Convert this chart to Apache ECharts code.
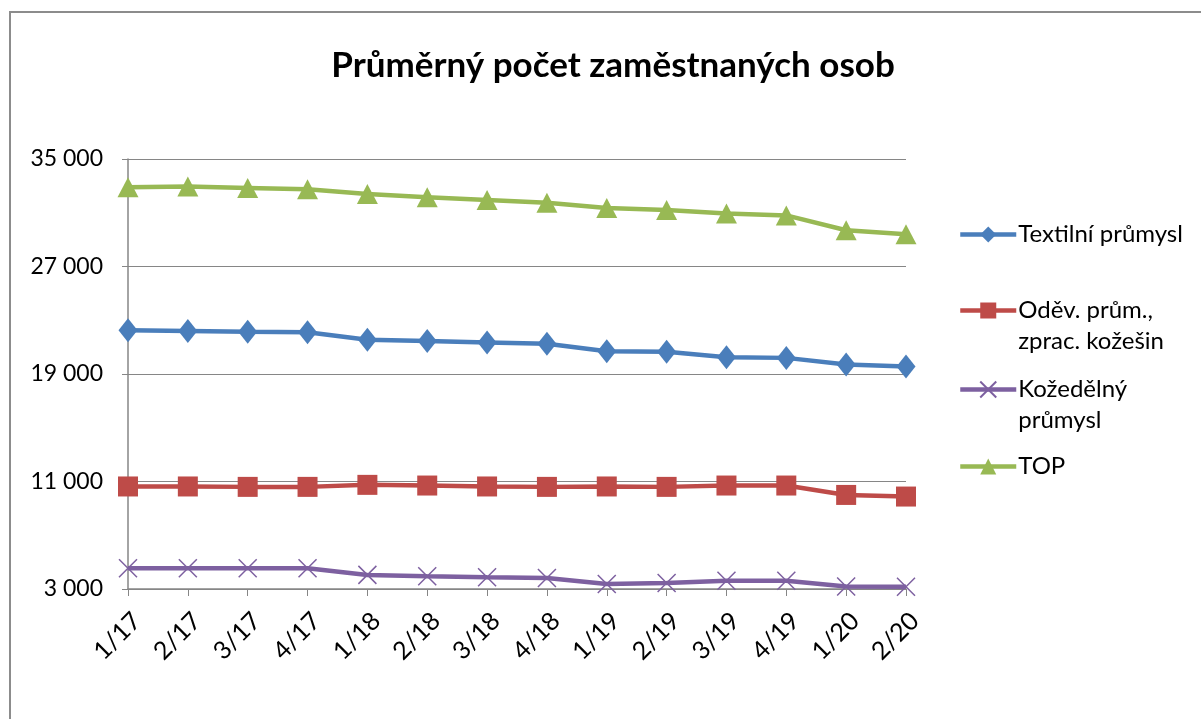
<!DOCTYPE html>
<html>
<head>
<meta charset="utf-8">
<script src="https://cdn.jsdelivr.net/npm/echarts@6/dist/echarts.min.js"></script>
<style>html,body{margin:0;padding:0;background:#fff;}#c{width:1201px;height:719px;}</style>
</head>
<body>
<div id="c"></div>
<script>
const categories = ['1/17','2/17','3/17','4/17','1/18','2/18','3/18','4/18','1/19','2/19','3/19','4/19','1/20','2/20'];
const textil = [22250,22200,22140,22100,21550,21450,21350,21250,20700,20650,20250,20200,19700,19550];
const odev = [10630,10630,10600,10600,10750,10700,10630,10600,10630,10600,10700,10700,10000,9880];
const kozed = [4540,4540,4540,4540,4050,3950,3870,3820,3370,3450,3620,3620,3190,3170];
const topTotal = [32900,32950,32850,32750,32400,32150,31950,31750,31350,31200,30950,30800,29700,29400];
const yTicks = [3000, 11000, 19000, 27000, 35000];

const FONT = 'Lato';
const chart = echarts.init(document.getElementById('c'));
const xPath = 'path://M0,0L10,10M10,0L0,10';
function fmt(v){ return String(v).replace(/\B(?=(\d{3})+(?!\d))/g, ' '); }
function legendAt(name, topPx, lines){
  return {
    show: true, orient: 'vertical', left: 958, top: topPx, padding: 0,
    itemWidth: 56, itemHeight: 20, itemGap: 0,
    data: [name],
    formatter: function(n){ return lines; },
    lineStyle: { width: 4.5 },
    textStyle: { fontFamily: FONT, fontSize: 24, color: '#000', lineHeight: 31, padding: [0, 0, 0, -3] }
  };
}
const names = ['Textilní průmysl', 'Oděv. prům., zprac. kožešin', 'Kožedělný průmysl', 'TOP'];
chart.setOption({
  animation: false,
  backgroundColor: '#fff',
  title: {
    text: 'Průměrný počet zaměstnaných osob', left: 608, top: 43, textAlign: 'center',
    textStyle: { fontFamily: FONT, fontWeight: 'bold', fontSize: 35, color: '#000' }
  },
  graphic: [{ type: 'rect', shape: { x: 10, y: 12, width: 1300, height: 800 }, style: { fill: 'none', stroke: '#8c8c8c', lineWidth: 2 }, silent: true }],
  legend: [
    legendAt(names[0], 219, 'Textilní průmysl'),
    legendAt(names[1], 264, '\u00a0\nOděv. prům.,\nzprac. kožešin'),
    legendAt(names[2], 343, '\u00a0\nKožedělný\nprůmysl'),
    legendAt(names[3], 451, 'TOP')
  ],
  grid: { left: 128, right: 295, top: 159, bottom: 130, containLabel: false },
  xAxis: {
    type: 'category', data: categories, boundaryGap: false,
    axisLine: { lineStyle: { color: '#868686', width: 1.5 } },
    axisTick: { show: true, alignWithLabel: true, length: 7, lineStyle: { color: '#868686' } },
    axisLabel: { rotate: 45, fontFamily: FONT, fontSize: 25, color: '#000', margin: 19, interval: 0, verticalAlign: 'top' }
  },
  yAxis: {
    type: 'value', min: yTicks[0], max: yTicks[yTicks.length - 1], interval: yTicks[1] - yTicks[0],
    axisLine: { show: true, lineStyle: { color: '#868686', width: 1.5 } },
    axisTick: { show: true, length: 6, lineStyle: { color: '#868686' } },
    splitLine: { lineStyle: { color: '#868686', width: 1.2 } },
    axisLabel: { fontFamily: FONT, fontSize: 23, color: '#000', margin: 25, formatter: fmt }
  },
  series: [
    { name: names[0], type: 'line', data: textil, symbol: 'diamond', symbolSize: [19, 24],
      lineStyle: { color: '#4a7ebb', width: 4.5 }, itemStyle: { color: '#4a7ebb' } },
    { name: names[1], type: 'line', data: odev, symbol: 'rect', symbolSize: 20,
      lineStyle: { color: '#be4b48', width: 4.5 }, itemStyle: { color: '#be4b48' } },
    { name: names[2], type: 'line', data: kozed, symbol: xPath, symbolSize: 18,
      lineStyle: { color: '#7d60a0', width: 4.5 }, itemStyle: { color: '#7d60a0', borderColor: '#7d60a0', borderWidth: 1.5 } },
    { name: names[3], type: 'line', data: topTotal, symbol: 'triangle', symbolSize: [21, 20],
      lineStyle: { color: '#98b954', width: 4.5 }, itemStyle: { color: '#98b954' } }
  ]
});
</script>
</body>
</html>
